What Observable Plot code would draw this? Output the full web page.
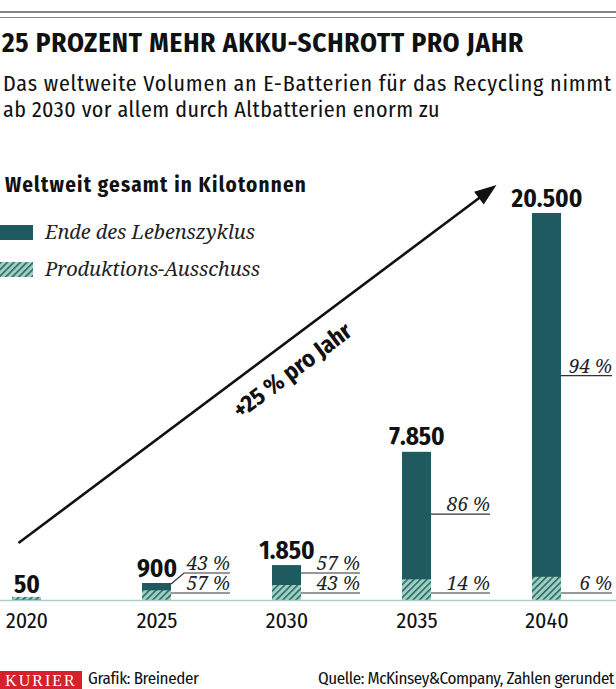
<!DOCTYPE html>
<html><head><meta charset="utf-8">
<script src="https://cdn.jsdelivr.net/npm/d3@7"></script>
<script src="https://cdn.jsdelivr.net/npm/@observablehq/plot@0.6"></script>
<style>
body{margin:0;background:#fff;}
#wrap{position:relative;width:616px;height:689px;overflow:hidden;font-family:"Fira Sans Condensed",sans-serif;color:#111;}
.abs{position:absolute;white-space:nowrap;line-height:1;}
.serif{font-family:"Noto Serif",serif;font-style:italic;color:#222;}
#chart{position:absolute;left:0;top:140px;}
</style></head><body>
<svg width="0" height="0" style="position:absolute">
  <defs>
    <pattern id="hatch" patternUnits="userSpaceOnUse" width="4.6" height="4.6" patternTransform="rotate(45)">
      <rect width="4.6" height="4.6" fill="#9fd0c3"></rect>
      <line x1="0.8" y1="0" x2="0.8" y2="4.6" stroke="#23605e" stroke-width="1.5"></line>
    </pattern>
  </defs>
</svg>
<div id="wrap">
  <div style="position:absolute;left:0;top:11px;width:616px;height:2px;background:#858585"></div>
  <div style="position:absolute;left:0;top:17px;width:616px;height:1px;background:#858585"></div>
  <div id="title" class="abs" style="font-weight:700;font-size:27px">25 PROZENT MEHR AKKU-SCHROTT PRO JAHR</div>
  <div id="sub1" class="abs" style="font-size:22px">Das weltweite Volumen an E-Batterien für das Recycling nimmt</div>
  <div id="sub2" class="abs" style="font-size:22px">ab 2030 vor allem durch Altbatterien enorm zu</div>
  <div id="unit" class="abs" style="font-weight:700;font-size:21px">Weltweit gesamt in Kilotonnen</div>
  <svg id="sw1" width="33" height="15" style="position:absolute;left:0;top:225px"><rect width="33" height="15" fill="#1e5a5f"></rect></svg>
  <svg id="sw2" width="33" height="15" style="position:absolute;left:0;top:262px"><rect width="33" height="15" fill="url(#hatch)"></rect></svg>
  <div id="leg1" class="abs serif" style="font-size:20px"></div>
  <div id="leg2" class="abs serif" style="font-size:20px"></div>
  <div id="chart"></div>
  <div id="brand" class="abs" style="left:0;top:671px;width:82px;height:18px;background:#d6202a;color:#fff;font-family:'Liberation Serif',serif;font-size:16px;letter-spacing:2px;line-height:19px;text-align:center">KURIER</div>
  <div id="credit" class="abs" style="font-size:17px">Grafik: Breineder</div>
  <div id="source" class="abs" style="font-size:17px">Quelle: McKinsey&amp;Company, Zahlen gerundet</div>
</div>
<script>
// ---- data ----
const years = ["2020", "2025", "2030", "2035", "2040"];
const totals = [50, 900, 1850, 7850, 20500];          // Kilotonnen
const eolPct = [40, 43, 57, 86, 94];                   // Ende des Lebenszyklus (%)
const prodPct = [60, 57, 43, 14, 6];                   // Produktions-Ausschuss (%)
const showPct = [false, true, true, true, true];
const seriesNames = ["Ende des Lebenszyklus", "Produktions-Ausschuss"];
const growthLabel = "+25 % pro Jahr";

const rows = years.map((year, i) => ({
  year, total: totals[i], prod: totals[i] * prodPct[i] / 100,
  eolP: eolPct[i], prodP: prodPct[i], show: showPct[i]
}));

const de = d3.formatLocale({decimal: ",", thousands: ".", grouping: [3], currency: ["", " €"]});
const fmt = de.format(",");

document.getElementById("leg1").textContent = seriesNames[0];
document.getElementById("leg2").textContent = seriesNames[1];

function annotations(index, scales, values, dims) {
  const X = scales.x, Y = scales.y;
  const bw = typeof X.bandwidth === "function" ? X.bandwidth() : 29;
  const g = d3.create("svg:g");
  const base = Y(0);
  const line = d3.line();
  for (const d of rows) {
    if (!d.show) continue;
    const xr = X(d.year) + bw;
    const xe = Math.min(xr + 59, dims.width - 4);
    const yb = base - 7;
    const yt = Math.min(Y(d.total * 0.58), base - 27);
    const yTop = Y(d.total);
    const pts = yTop > yt + 2 ? [[xr, yTop + 1], [xr + 13, yt], [xe, yt]] : [[xr, yt], [xe, yt]];
    g.append("path").attr("d", line(pts)).attr("fill", "none").attr("stroke", "#333").attr("stroke-width", 1.2);
    g.append("path").attr("d", line([[xr, yb], [xe, yb]])).attr("fill", "none").attr("stroke", "#333").attr("stroke-width", 1.2);
    for (const [yy, p] of [[yt, d.eolP], [yb, d.prodP]]) {
      g.append("text").attr("x", xe).attr("y", yy - 3).attr("text-anchor", "end")
        .attr("font-family", "Noto Serif, serif").attr("font-style", "italic").attr("font-size", 19)
        .attr("fill", "#222").text(`${p} %`);
    }
  }
  // growth arrow
  const xa = X(years[0]) + bw / 2 - 8, ya = base - 57;
  const xb = X(years[years.length - 1]) + bw / 2 - 50, yb2 = Y(d3.max(totals)) - 28;
  const a = Math.atan2(yb2 - ya, xb - xa);
  const ca = Math.cos(a), sa = Math.sin(a);
  const hl = 22, hw = 8;
  g.append("path").attr("d", line([[xa, ya], [xb - ca * hl * 0.7, yb2 - sa * hl * 0.7]]))
    .attr("stroke", "#111").attr("stroke-width", 2.6).attr("fill", "none");
  const bx = xb - ca * hl, by = yb2 - sa * hl;
  g.append("path").attr("d", `M${xb},${yb2}L${bx - sa * hw},${by + ca * hw}L${bx + sa * hw},${by - ca * hw}Z`).attr("fill", "#111");
  const t = 0.54, off = 26;
  const tx = xa + t * (xb - xa) - sa * off, ty = ya + t * (yb2 - ya) + ca * off;
  g.append("text").attr("transform", `translate(${tx},${ty}) rotate(${a * 180 / Math.PI})`)
    .attr("text-anchor", "middle").attr("dominant-baseline", "central")
    .attr("font-weight", 700).attr("font-size", 24).attr("fill", "#111").text(growthLabel);
  return g.node();
}

const plot = Plot.plot({
  width: 616,
  height: 520,
  marginTop: 73,
  marginBottom: 60,
  marginLeft: 0,
  marginRight: 0,
  style: {fontFamily: "Fira Sans Condensed, sans-serif", fontSize: "22px", color: "#111", background: "transparent", overflow: "visible"},
  x: {type: "band", domain: years, range: [10.5, 562], paddingInner: 0.778, paddingOuter: 0, align: 0.5, tickSize: 0, tickPadding: 12, label: null},
  y: {domain: [0, 20500], axis: null},
  marks: [
    Plot.barY(rows, {x: "year", y1: 0, y2: "prod", fill: "url(#hatch)", insetTop: -2.5}),
    Plot.barY(rows, {x: "year", y1: "prod", y2: "total", fill: "#1e5a5f"}),
    Plot.ruleY([0], {stroke: "#a7d0cb", strokeWidth: 1.5}),
    Plot.text(rows, {x: "year", y: "total", text: d => fmt(d.total), lineAnchor: "bottom", dy: -7, fontWeight: 700, fontSize: 25, fill: "#111"}),
    annotations
  ]
});
document.getElementById("chart").appendChild(plot);

// ---- header / footer text placement (baseline + width fit) ----
function place(id, x, base, width, anchor = "start") {
  const el = document.getElementById(id);
  if (width) {
    const w = el.getBoundingClientRect().width;
    const n = el.textContent.length;
    el.style.letterSpacing = ((width - w) / n) + "px";
  }
  const m = document.createElement("span");
  m.style.cssText = "display:inline-block;width:0;height:0;vertical-align:baseline";
  el.appendChild(m);
  el.style.top = "0px";
  const off = m.getBoundingClientRect().top - el.getBoundingClientRect().top;
  m.remove();
  el.style.top = (base - off) + "px";
  const wf = el.getBoundingClientRect().width;
  el.style.left = (anchor === "end" ? x - wf : x) + "px";
}
place("title", 2, 52, 522);
place("sub1", 3, 91, 609);
place("sub2", 3, 117, 437);
place("unit", 5, 192, 302);
place("leg1", 45, 239, 210);
place("leg2", 45, 276, 215);
place("credit", 88, 684, 110);
place("source", 614, 684, 296, "end");
</script>
</body></html>
